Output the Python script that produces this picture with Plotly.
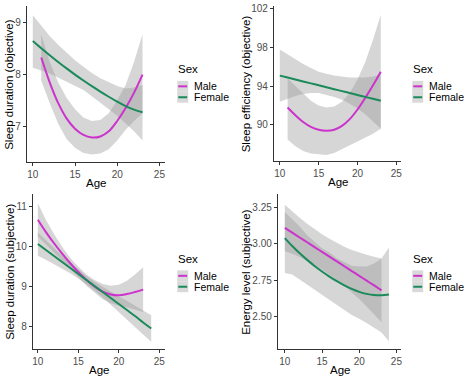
import plotly.graph_objects as go

W, H = 474, 379
FONT = "Liberation Sans, Arial, sans-serif"
MALE_COL = "#cc33cc"
FEMALE_COL = "#1a8a5a"
BAND = "rgba(153,153,153,0.4)"

# ---------------- data ----------------
# Panel 1: Sleep duration (objective)
p1_male_age = [11, 12, 13, 14, 15, 16, 17, 18, 19, 20, 21, 22, 23]
p1_male = [8.33, 7.85, 7.45, 7.15, 6.95, 6.83, 6.78, 6.80, 6.90, 7.10, 7.35, 7.65, 8.00]
p1_male_lo = [7.88, 7.45, 7.05, 6.75, 6.58, 6.48, 6.45, 6.47, 6.55, 6.72, 6.93, 7.10, 7.25]
p1_male_hi = [8.78, 8.25, 7.85, 7.55, 7.33, 7.17, 7.10, 7.12, 7.25, 7.50, 7.80, 8.25, 8.78]
p1_fem_age = [10, 11, 12, 13, 14, 15, 16, 17, 18, 19, 20, 21, 22, 23]
p1_fem = [8.65, 8.51, 8.375, 8.245, 8.12, 8.00, 7.885, 7.775, 7.67, 7.57, 7.475, 7.39, 7.32, 7.27]
p1_fem_lo = [8.13, 8.08, 8.02, 7.95, 7.86, 7.78, 7.70, 7.58, 7.46, 7.33, 7.20, 7.06, 6.90, 6.72]
p1_fem_hi = [9.15, 8.95, 8.75, 8.58, 8.42, 8.28, 8.15, 8.03, 7.93, 7.85, 7.78, 7.73, 7.75, 7.80]

# Panel 2: Sleep efficiency (objective)
p2_male_age = [11, 12, 13, 14, 15, 16, 17, 18, 19, 20, 21, 22, 23]
p2_male = [91.8, 91.0, 90.3, 89.8, 89.5, 89.4, 89.5, 89.9, 90.6, 91.6, 92.8, 94.1, 95.5]
p2_male_lo = [88.5, 87.8, 87.3, 87.05, 86.95, 86.9, 87.1, 87.5, 87.9, 88.3, 88.7, 89.1, 89.6]
p2_male_hi = [94.8, 94.0, 93.2, 92.5, 92.0, 91.8, 91.9, 92.4, 93.3, 94.7, 96.5, 98.8, 101.4]
p2_fem_age = [10, 11, 12, 13, 14, 15, 16, 17, 18, 19, 20, 21, 22, 23]
p2_fem = [95.1, 94.9, 94.7, 94.5, 94.3, 94.1, 93.9, 93.7, 93.5, 93.3, 93.1, 92.9, 92.7, 92.5]
p2_fem_lo = [92.4, 92.7, 93.0, 93.2, 93.3, 93.3, 93.1, 92.9, 92.6, 92.2, 91.7, 91.1, 90.4, 89.6]
p2_fem_hi = [97.8, 97.3, 96.8, 96.3, 95.9, 95.5, 95.3, 95.1, 95.0, 94.9, 94.9, 94.9, 95.0, 95.2]

# Panel 3: Sleep duration (subjective)
p3_male_age = [10, 11, 12, 13, 14, 15, 16, 17, 18, 19, 20, 21, 22, 23]
p3_male = [10.67, 10.36, 10.08, 9.82, 9.58, 9.36, 9.16, 9.00, 8.87, 8.80, 8.78, 8.81, 8.86, 8.92]
p3_male_lo = [10.25, 10.06, 9.85, 9.65, 9.45, 9.23, 9.02, 8.84, 8.68, 8.58, 8.52, 8.48, 8.42, 8.36]
p3_male_hi = [11.08, 10.66, 10.31, 9.99, 9.71, 9.49, 9.30, 9.16, 9.06, 9.02, 9.04, 9.14, 9.30, 9.48]
p3_fem_age = [10, 11, 12, 13, 14, 15, 16, 17, 18, 19, 20, 21, 22, 23, 24]
p3_fem = [10.06, 9.91, 9.76, 9.61, 9.46, 9.31, 9.16, 9.01, 8.86, 8.71, 8.56, 8.41, 8.26, 8.10, 7.95]
p3_fem_lo = [9.77, 9.67, 9.56, 9.45, 9.33, 9.20, 9.06, 8.90, 8.73, 8.55, 8.37, 8.18, 7.99, 7.80, 7.62]
p3_fem_hi = [10.35, 10.15, 9.96, 9.77, 9.59, 9.42, 9.26, 9.12, 8.99, 8.87, 8.75, 8.64, 8.53, 8.40, 8.28]

# Panel 4: Energy level (subjective)
p4_male_age = [10, 11, 12, 13, 14, 15, 16, 17, 18, 19, 20, 21, 22, 23]
p4_male = [3.110, 3.077, 3.044, 3.011, 2.978, 2.945, 2.912, 2.879, 2.846, 2.813, 2.780, 2.747, 2.714, 2.680]
p4_male_lo = [2.950, 2.932, 2.909, 2.883, 2.854, 2.823, 2.789, 2.752, 2.712, 2.668, 2.620, 2.569, 2.516, 2.460]
p4_male_hi = [3.270, 3.222, 3.179, 3.139, 3.102, 3.067, 3.035, 3.006, 2.980, 2.958, 2.940, 2.925, 2.912, 2.900]
p4_fem_age = [10, 11, 12, 13, 14, 15, 16, 17, 18, 19, 20, 21, 22, 23, 24]
p4_fem = [3.040, 2.985, 2.935, 2.890, 2.848, 2.810, 2.775, 2.743, 2.715, 2.690, 2.670, 2.656, 2.648, 2.647, 2.652]
p4_fem_lo = [2.80, 2.79, 2.76, 2.72, 2.685, 2.65, 2.62, 2.58, 2.545, 2.51, 2.485, 2.455, 2.425, 2.39, 2.33]
p4_fem_hi = [3.22, 3.17, 3.12, 3.06, 3.015, 2.97, 2.94, 2.90, 2.875, 2.85, 2.845, 2.845, 2.865, 2.90, 2.975]

panels = [
    dict(title="Sleep duration (objective)",
         male=(p1_male_age, p1_male, p1_male_lo, p1_male_hi),
         fem=(p1_fem_age, p1_fem, p1_fem_lo, p1_fem_hi),
         xpx=(26, 165), ypx=(3, 160), xr=[9.3, 25.7], yr=[6.31, 9.33],
         yt=[7, 8, 9], ytl=["7", "8", "9"], ytitle_x=8, leg_x=177, leg_y=67),
    dict(title="Sleep efficiency (objective)",
         male=(p2_male_age, p2_male, p2_male_lo, p2_male_hi),
         fem=(p2_fem_age, p2_fem, p2_fem_lo, p2_fem_hi),
         xpx=(274, 402), ypx=(3, 159), xr=[9.23, 25.64], yr=[86.3, 102.3],
         yt=[90, 94, 98, 102], ytl=["90", "94", "98", "102"], ytitle_x=246, leg_x=413, leg_y=67),
    dict(title="Sleep duration (subjective)",
         male=(p3_male_age, p3_male, p3_male_lo, p3_male_hi),
         fem=(p3_fem_age, p3_fem, p3_fem_lo, p3_fem_hi),
         xpx=(32, 165), ypx=(193, 349), xr=[9.385, 25.74], yr=[7.43, 11.3],
         yt=[8, 9, 10, 11], ytl=["8", "9", "10", "11"], ytitle_x=9, leg_x=177, leg_y=258),
    dict(title="Energy level (subjective)",
         male=(p4_male_age, p4_male, p4_male_lo, p4_male_hi),
         fem=(p4_fem_age, p4_fem, p4_fem_lo, p4_fem_hi),
         xpx=(278, 402), ypx=(193, 349), xr=[9.06, 25.66], yr=[2.275, 3.34],
         yt=[2.5, 2.75, 3.0, 3.25], ytl=["2.50", "2.75", "3.00", "3.25"], ytitle_x=246, leg_x=413, leg_y=258),
]

x_ticks = [10, 15, 20, 25]


def px2x(p):
    return p / W


def px2y(p):
    return 1 - p / H


fig = go.Figure()
annotations = []
shapes = []

for i, p in enumerate(panels, start=1):
    xa = "x" if i == 1 else f"x{i}"
    ya = "y" if i == 1 else f"y{i}"
    # ribbons
    for key in ("male", "fem"):
        ages, mean, lo, hi = p[key]
        fig.add_trace(go.Scatter(
            x=list(ages) + list(ages)[::-1], y=list(hi) + list(lo)[::-1],
            fill="toself", fillcolor=BAND, line=dict(width=0),
            mode="lines", hoverinfo="skip", showlegend=False, xaxis=xa, yaxis=ya))
    # lines
    for key, col in (("male", MALE_COL), ("fem", FEMALE_COL)):
        ages, mean, lo, hi = p[key]
        fig.add_trace(go.Scatter(
            x=ages, y=mean, mode="lines",
            line=dict(color=col, width=2, shape="spline", smoothing=1.0),
            showlegend=False, xaxis=xa, yaxis=ya))

    axis_common = dict(showline=True, linecolor="#333333", linewidth=1,
                       ticks="outside", ticklen=3, tickcolor="#333333", tickwidth=1,
                       showgrid=False, zeroline=False,
                       tickfont=dict(family=FONT, size=10, color="#4d4d4d"))
    xname = "xaxis" if i == 1 else f"xaxis{i}"
    yname = "yaxis" if i == 1 else f"yaxis{i}"
    fig.update_layout({
        xname: dict(domain=[px2x(p["xpx"][0]), px2x(p["xpx"][1])], range=p["xr"],
                    tickvals=x_ticks, ticktext=[str(v) for v in x_ticks],
                    anchor=ya, **axis_common),
        yname: dict(domain=[px2y(p["ypx"][1]), px2y(p["ypx"][0])], range=p["yr"],
                    tickvals=p["yt"], ticktext=p["ytl"], anchor=xa, **axis_common),
    })
    # axis titles
    xc = (p["xpx"][0] + p["xpx"][1]) / 2
    yc = (p["ypx"][0] + p["ypx"][1]) / 2
    annotations.append(dict(x=px2x(xc), y=px2y(p["ypx"][1] + 21), xref="paper", yref="paper",
                            text="Age", showarrow=False, xanchor="center", yanchor="middle",
                            font=dict(family=FONT, size=11.5, color="black")))
    annotations.append(dict(x=px2x(p["ytitle_x"]), y=px2y(yc), xref="paper", yref="paper",
                            text=p["title"], textangle=-90, showarrow=False,
                            xanchor="center", yanchor="middle",
                            font=dict(family=FONT, size=11.5, color="black")))
    # legend
    lx, ly = p["leg_x"], p["leg_y"]
    annotations.append(dict(x=px2x(lx - 1), y=px2y(ly), xref="paper", yref="paper",
                            text="Sex", showarrow=False, xanchor="left", yanchor="middle",
                            font=dict(family=FONT, size=11.5, color="black")))
    for j, (lab, col) in enumerate((("Male", MALE_COL), ("Female", FEMALE_COL))):
        cy = ly + 17 + j * 11
        shapes.append(dict(type="rect", xref="paper", yref="paper",
                           x0=px2x(lx), x1=px2x(lx + 11), y0=px2y(cy - 5.5), y1=px2y(cy + 5.5),
                           fillcolor="#d9d9d9", line=dict(width=0), layer="below"))
        shapes.append(dict(type="line", xref="paper", yref="paper",
                           x0=px2x(lx + 1), x1=px2x(lx + 10), y0=px2y(cy), y1=px2y(cy),
                           line=dict(color=col, width=2)))
        annotations.append(dict(x=px2x(lx + 15), y=px2y(cy), xref="paper", yref="paper",
                                text=lab, showarrow=False, xanchor="left", yanchor="middle",
                                font=dict(family=FONT, size=10.5, color="black")))

fig.update_layout(width=W, height=H, margin=dict(l=0, r=0, t=0, b=0),
                  paper_bgcolor="white", plot_bgcolor="white",
                  annotations=annotations, shapes=shapes, showlegend=False)

fig.write_html("out.html", config={"displayModeBar": False},
               post_script="document.body.style.margin='0';document.body.style.overflow='hidden';")
